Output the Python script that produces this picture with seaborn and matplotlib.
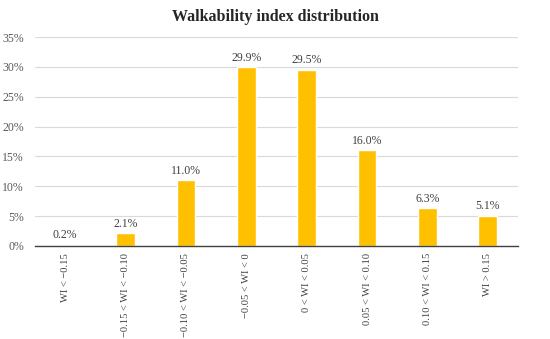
import matplotlib
matplotlib.use("Agg")
import matplotlib.pyplot as plt
import seaborn as sns
import pandas as pd
from matplotlib.ticker import FuncFormatter

categories = ["WI < \u22120.15", "\u22120.15 < WI < \u22120.10", "\u22120.10 < WI < \u22120.05",
              "\u22120.05 < WI < 0", "0 < WI < 0.05", "0.05 < WI < 0.10",
              "0.10 < WI < 0.15", "WI > 0.15"]
values = [0.2, 2.1, 11.0, 29.9, 29.5, 16.0, 6.3, 5.1]

sns.set_theme(style="white")
plt.rcParams['font.family'] = ['Liberation Serif', 'DejaVu Serif']

df = pd.DataFrame({"cat": categories, "val": values})
fig = plt.figure(figsize=(5.5, 3.39), dpi=100)
ax = fig.add_axes([35/550, 1-246/339, (518-35)/550, (246-37)/339])
sns.barplot(data=df, x="cat", y="val", color="#FFC000", saturation=1, width=0.31, ax=ax)
ax.set_ylim(0, 35)
ax.set_yticks(range(0, 36, 5))
ax.yaxis.set_major_formatter(FuncFormatter(lambda v, p: f"{int(v)}%"))
ax.grid(axis="y", color="#D9D9D9", linewidth=0.8)
ax.set_axisbelow(True)
for s in ["top", "right", "left"]:
    ax.spines[s].set_visible(False)
ax.spines["bottom"].set_color("#404040")
ax.spines["bottom"].set_linewidth(1.0)
ax.set_xlabel("")
ax.set_ylabel("")
ax.tick_params(axis="y", labelsize=8.5, colors="#595959", length=0, pad=8)
ax.tick_params(axis="x", labelsize=7.6, colors="#404040", length=0, pad=5)
plt.setp(ax.get_xticklabels(), rotation=90)
for i, v in enumerate(values):
    ax.text(i, v + 0.6, f"{v:.1f}%", ha="center", va="bottom", fontsize=8.5, color="#404040")
ax.set_xlim(-0.5, len(values) - 0.5)
fig.text(0.5, 1 - 17/339, "Walkability index distribution", ha="center", va="center",
         fontsize=11.5, fontweight="bold", color="#262626")
fig.savefig("out.png", dpi=100)
